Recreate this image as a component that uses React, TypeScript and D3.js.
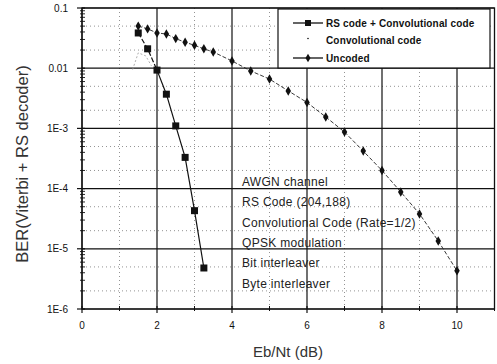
import React from "react";
import * as d3 from "d3";

const rsX = [1.5, 1.75, 2.0, 2.25, 2.5, 2.75, 3.0, 3.25];
const rsY = [0.0385, 0.021, 0.0093, 0.0037, 0.0011, 0.00033, 0.000043, 0.0000048];

const convX = [1.35, 1.5, 1.7, 1.85];
const convY = [0.0095, 0.018, 0.016, 0.011];

const unX = [1.5, 1.75, 2.0, 2.25, 2.5, 2.75, 3.0, 3.25, 3.5, 4.0, 4.5, 5.0, 5.5, 6.0, 6.5, 7.0, 7.5, 8.0, 8.5, 9.0, 9.5, 10.0];
const unY = [0.05, 0.045, 0.0385, 0.037, 0.031, 0.027, 0.024, 0.021, 0.0186, 0.0132, 0.009, 0.0066, 0.0042, 0.0027, 0.00155, 0.00087, 0.00042, 0.0002, 0.000088, 0.000038, 0.0000135, 0.0000043];

const yTickVals = [0.1, 0.01, 0.001, 0.0001, 0.00001, 0.000001];
const yTickLabels = ["0.1", "0.01", "1E-3", "1E-4", "1E-5", "1E-6"];
const xTickVals = [0, 2, 4, 6, 8, 10];
const xMinorVals = [1, 3, 5, 7, 9, 11];

const legendLabels = ["RS code + Convolutional code", "Convolutional code", "Uncoded"];
const notes = ["AWGN channel", "RS Code (204,188)", "Convolutional Code (Rate=1/2)", "QPSK modulation", "Bit interleaver", "Byte interleaver"];

export default function App() {
  const W = 497, H = 364;
  const left = 82, right = 494.5, top = 8, bottom = 309;
  const x = d3.scaleLinear().domain([0, 11]).range([left, right]);
  const y = d3.scaleLog().domain([1e-6, 0.1]).range([bottom, top]);
  const font = "Liberation Sans, Arial, sans-serif";

  const minorY: number[] = [];
  const minorTicks: number[] = [];
  for (let e = -6; e < -1; e++) {
    for (let m = 2; m <= 9; m++) {
      const v = m * Math.pow(10, e);
      minorTicks.push(v);
      if (m === 2 || m === 5) minorY.push(v);
    }
  }

  const line = d3.line<[number, number]>().x(d => x(d[0])).y(d => y(d[1]));
  const rsPts = rsX.map((v, i) => [v, rsY[i]] as [number, number]);
  const unPts = unX.map((v, i) => [v, unY[i]] as [number, number]);
  const convPts = convX.map((v, i) => [v, convY[i]] as [number, number]);

  const lx = 278, ly = 9, lw = 212, lh = 59;

  return (
    <svg width={W} height={H} style={{ position: "absolute", left: 0, top: 0, background: "#fff" }} fontFamily={font}>
      <rect x={0} y={0} width={W} height={H} fill="#fff" />
      {minorY.map((v, i) => (
        <line key={"my" + i} x1={left} x2={right} y1={y(v)} y2={y(v)} stroke="#777" strokeWidth={0.8} strokeDasharray="1,3" />
      ))}
      {xMinorVals.slice(0, 5).map((v, i) => (
        <line key={"mx" + i} x1={x(v)} x2={x(v)} y1={top} y2={bottom} stroke="#777" strokeWidth={0.8} strokeDasharray="1,3" />
      ))}
      {yTickVals.map((v, i) => (
        <line key={"gy" + i} x1={left} x2={right} y1={y(v)} y2={y(v)} stroke="#111" strokeWidth={1.2} />
      ))}
      {xTickVals.map((v, i) => (
        <line key={"gx" + i} x1={x(v)} x2={x(v)} y1={top} y2={bottom} stroke="#111" strokeWidth={1.2} />
      ))}
      <rect x={left} y={top} width={right - left} height={bottom - top} fill="none" stroke="#111" strokeWidth={1.3} />
      {yTickVals.map((v, i) => (
        <g key={"yt" + i}>
          <line x1={left - 5} x2={left + 3} y1={y(v)} y2={y(v)} stroke="#111" strokeWidth={1.2} />
          <text x={68} y={y(v) + 3.5} fontSize={10} textAnchor="end" fill="#111">{yTickLabels[i]}</text>
        </g>
      ))}
      {minorTicks.map((v, i) => (
        <line key={"ymt" + i} x1={left - 2} x2={left + 3} y1={y(v)} y2={y(v)} stroke="#111" strokeWidth={0.9} />
      ))}
      {xTickVals.map((v, i) => (
        <g key={"xt" + i}>
          <line x1={x(v)} x2={x(v)} y1={bottom - 3} y2={bottom + 4} stroke="#111" strokeWidth={1.2} />
          <text x={x(v)} y={329} fontSize={10} textAnchor="middle" fill="#111">{xTickVals[i]}</text>
        </g>
      ))}
      {xMinorVals.map((v, i) => (
        <line key={"xmt" + i} x1={x(v)} x2={x(v)} y1={bottom - 3} y2={bottom + 2} stroke="#111" strokeWidth={1} />
      ))}
      {notes.map((t, i) => (
        <text key={"n" + i} x={242} y={186 + i * 20.3} fontSize={12} letterSpacing={0.3} fill="#222">{t}</text>
      ))}
      <path d={line(convPts) || ""} fill="none" stroke="#999" strokeWidth={0.8} strokeDasharray="2,2" />
      <path d={line(unPts) || ""} fill="none" stroke="#222" strokeWidth={0.9} strokeDasharray="4,2" />
      {unPts.map((p, i) => (
        <path key={"u" + i} d={d3.symbol(d3.symbolDiamond, 26)() || ""} transform={`translate(${x(p[0])},${y(p[1])})`} fill="#111" />
      ))}
      <path d={line(rsPts.slice(0, 3)) || ""} fill="none" stroke="#111" strokeWidth={1.2} strokeDasharray="5,2" />
      <path d={line(rsPts.slice(2)) || ""} fill="none" stroke="#111" strokeWidth={1.2} />
      {rsPts.map((p, i) => (
        <rect key={"r" + i} x={x(p[0]) - 3.5} y={y(p[1]) - 3.5} width={7} height={7} fill="#111" />
      ))}
      <rect x={lx} y={ly} width={lw} height={lh} fill="#fff" stroke="#111" strokeWidth={1.2} />
      {legendLabels.map((t, i) => {
        const yy = ly + 14 + i * 17.5;
        return (
          <g key={"l" + i}>
            {i !== 1 && <line x1={293} x2={323} y1={yy} y2={yy} stroke="#111" strokeWidth={1.3} />}
            {i === 0 && <rect x={305} y={yy - 3} width={6} height={6} fill="#111" />}
            {i === 1 && <circle cx={308} cy={yy - 2} r={0.8} fill="#111" />}
            {i === 2 && <path d={d3.symbol(d3.symbolDiamond, 22)() || ""} transform={`translate(308,${yy})`} fill="#111" />}
            <text x={326} y={yy + 3.5} fontSize={10} fontWeight="bold" letterSpacing={0.15} fill="#111">{t}</text>
          </g>
        );
      })}
      <text x={288} y={357} fontSize={15} textAnchor="middle" fill="#333">Eb/Nt (dB)</text>
      <text transform={`translate(28,${164}) rotate(-90)`} fontSize={16.5} textAnchor="middle" fill="#333">BER(Viterbi + RS decoder)</text>
    </svg>
  );
}
